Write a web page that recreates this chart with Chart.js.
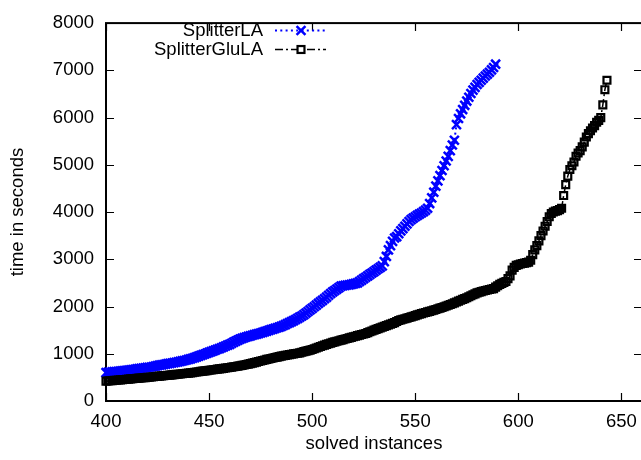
<!DOCTYPE html>
<html>
<head>
<meta charset="utf-8">
<script src="https://cdn.jsdelivr.net/npm/chart.js@4"></script>
<style>
  html, body { margin: 0; padding: 0; overflow: hidden; background: #fff; }
  canvas { display: block; }
</style>
</head>
<body>
<canvas id="chart" width="660" height="460" style="width:660px;height:460px"></canvas>
<script>
// solved instances start at 400, one value (seconds) per instance
const firstInstance = 400;

const splitterLA = [
  600, 605, 610, 615, 620, 625, 630, 635, 640, 645,
  650, 655, 660, 665, 670, 680, 685, 690, 695, 700,
  710, 715, 720, 730, 740, 750, 758, 765, 772, 780,
  790, 798, 805, 812, 820, 830, 840, 848, 858, 868,
  880, 893, 905, 918, 935, 950, 965, 980, 995, 1012,
  1030, 1045, 1060, 1078, 1095, 1110, 1128, 1145, 1165, 1182,
  1200, 1222, 1245, 1268, 1290, 1310, 1325, 1340, 1355, 1368,
  1380, 1392, 1405, 1416, 1428, 1440, 1453, 1467, 1481, 1495,
  1510, 1523, 1537, 1550, 1565, 1580, 1598, 1618, 1640, 1660,
  1680, 1702, 1725, 1750, 1775, 1800, 1830, 1862, 1895, 1928,
  1960, 1995, 2030, 2065, 2098, 2130, 2165, 2200, 2238, 2275,
  2310, 2340, 2370, 2400, 2430, 2440, 2448, 2455, 2460, 2470,
  2480, 2490, 2500, 2530, 2560, 2590, 2620, 2650, 2680, 2710,
  2740, 2770, 2800, 2830, 2860, 2950, 3060, 3200, 3290, 3380,
  3450, 3480, 3540, 3600, 3650, 3700, 3750, 3800, 3840, 3870,
  3900, 3930, 3955, 3980, 4010, 4040, 4080, 4180, 4300, 4420,
  4550, 4660, 4770, 4880, 4980, 5080, 5180, 5300, 5420, 5520,
  5850, 5980, 6080, 6170, 6260, 6350, 6430, 6510, 6580, 6640,
  6700, 6745, 6790, 6835, 6880, 6920, 6960, 7010, 7060, 7130
];

const splitterGluLA = [
  420, 424, 428, 432, 436, 440, 444, 448, 452, 456,
  460, 464, 468, 472, 476, 480, 484, 488, 492, 496,
  500, 504, 509, 513, 518, 522, 527, 531, 536, 540,
  545, 549, 554, 558, 563, 567, 572, 576, 581, 585,
  590, 596, 602, 608, 614, 620, 626, 632, 638, 644,
  650, 656, 662, 668, 674, 680, 686, 692, 698, 704,
  710, 717, 724, 731, 738, 745, 754, 763, 772, 781,
  790, 801, 812, 824, 835, 846, 858, 869, 880, 890,
  900, 910, 920, 930, 940, 950, 958, 966, 974, 982,
  990, 998, 1005, 1012, 1020, 1032, 1044, 1055, 1067, 1078,
  1090, 1106, 1122, 1138, 1154, 1170, 1184, 1198, 1212, 1226,
  1240, 1252, 1264, 1276, 1288, 1300, 1312, 1324, 1336, 1348,
  1360, 1372, 1383, 1395, 1407, 1418, 1430, 1448, 1465, 1483,
  1500, 1516, 1532, 1548, 1564, 1580, 1596, 1612, 1628, 1644,
  1660, 1682, 1705, 1718, 1730, 1742, 1755, 1768, 1780, 1794,
  1808, 1822, 1836, 1850, 1862, 1874, 1886, 1898, 1910, 1924,
  1938, 1952, 1966, 1980, 1996, 2012, 2028, 2044, 2060, 2078,
  2096, 2114, 2132, 2150, 2168, 2185, 2206, 2227, 2248, 2269,
  2290, 2302, 2315, 2328, 2340, 2350, 2360, 2370, 2380, 2410,
  2440, 2470, 2490, 2510, 2530, 2590, 2650, 2770, 2830, 2870,
  2885, 2900, 2910, 2920, 2930, 2940, 2980, 3100, 3200, 3290,
  3390, 3500, 3600, 3700, 3800, 3900, 3970, 4000, 4020, 4030,
  4050, 4080, 4350, 4580, 4760, 4900, 4980, 5060, 5180, 5250,
  5300, 5380, 5480, 5590, 5660, 5720, 5780, 5830, 5900, 5940,
  6000, 6270, 6590, 6790
];

const seriesNames = ['SplitterLA', 'SplitterGluLA'];
const xTicks = [400, 450, 500, 550, 600, 650];
const yTicks = [0, 1000, 2000, 3000, 4000, 5000, 6000, 7000, 8000];

const FONT = '"Liberation Sans", Arial, Helvetica, sans-serif';
const FS = 18.5;

function toPoints(values) {
  return values.map((y, i) => ({ x: firstInstance + i, y: y }));
}

// gnuplot-like frame: border on all sides, inward ticks, legend and titles
const frame = {
  id: 'frame',
  beforeDatasetsDraw(chart) {
    const { ctx, chartArea: a, scales } = chart;
    ctx.save();
    ctx.strokeStyle = '#000';
    ctx.lineWidth = 1.2;
    ctx.beginPath();
    xTicks.forEach(v => {
      const px = Math.round(scales.x.getPixelForValue(v)) + 0.5;
      ctx.moveTo(px, a.bottom); ctx.lineTo(px, a.bottom - 8);
      ctx.moveTo(px, a.top); ctx.lineTo(px, a.top + 8);
    });
    yTicks.forEach(v => {
      const py = Math.round(scales.y.getPixelForValue(v)) + 0.5;
      ctx.moveTo(a.left, py); ctx.lineTo(a.left + 8, py);
      ctx.moveTo(a.right, py); ctx.lineTo(a.right - 8, py);
    });
    ctx.stroke();
    ctx.lineWidth = 2;
    ctx.strokeRect(a.left, a.top, a.right - a.left, a.bottom - a.top);
    ctx.restore();
  },
  afterDraw(chart) {
    const { ctx, chartArea: a } = chart;
    ctx.save();
    ctx.fillStyle = '#000';
    ctx.font = FS + 'px ' + FONT;

    // axis titles
    ctx.textAlign = 'center';
    ctx.textBaseline = 'middle';
    ctx.fillText('solved instances', (a.left + a.right) / 2, 444);
    ctx.save();
    ctx.translate(18, (a.top + a.bottom) / 2);
    ctx.rotate(-Math.PI / 2);
    ctx.fillText('time in seconds', 0, 0);
    ctx.restore();

    // legend
    const rows = [30.5, 49.5];
    chart.data.datasets.forEach((ds, i) => {
      const y = rows[i];
      ctx.fillStyle = '#000';
      ctx.textAlign = 'right';
      ctx.textBaseline = 'middle';
      ctx.fillText(ds.label, 263, y);
      ctx.strokeStyle = ds.borderColor;
      ctx.lineWidth = ds.borderWidth;
      ctx.setLineDash(ds.borderDash);
      ctx.beginPath();
      ctx.moveTo(275, y); ctx.lineTo(326, y);
      ctx.stroke();
      ctx.setLineDash([]);
      ctx.strokeStyle = ds.pointBorderColor;
      ctx.lineWidth = ds.pointBorderWidth;
      const cx = 301;
      if (ds.pointStyle === 'crossRot') {
        const d = ds.pointRadius * Math.SQRT1_2;
        ctx.beginPath();
        ctx.moveTo(cx - d, y - d); ctx.lineTo(cx + d, y + d);
        ctx.moveTo(cx - d, y + d); ctx.lineTo(cx + d, y - d);
        ctx.stroke();
      } else {
        const s = ds.pointRadius * Math.SQRT1_2;
        ctx.fillStyle = '#fff';
        ctx.fillRect(cx - s, y - s, 2 * s, 2 * s);
        ctx.strokeRect(cx - s, y - s, 2 * s, 2 * s);
      }
    });
    ctx.restore();
  }
};

const plainLabel = v => String(v);

new Chart(document.getElementById('chart'), {
  type: 'scatter',
  data: {
    datasets: [
      {
        label: seriesNames[0],
        data: toPoints(splitterLA),
        showLine: true,
        borderColor: '#0000ff',
        borderWidth: 2,
        borderDash: [2, 3.3],
        pointStyle: 'crossRot',
        pointRadius: 6.3,
        pointBorderColor: '#0000ff',
        pointBorderWidth: 2.5,
        pointBackgroundColor: '#0000ff',
        order: 1,
        clip: false
      },
      {
        label: seriesNames[1],
        data: toPoints(splitterGluLA),
        showLine: true,
        borderColor: '#000000',
        borderWidth: 1.5,
        borderDash: [8, 3, 2, 3],
        pointStyle: 'rect',
        pointRadius: 4.9,
        pointBorderColor: '#000000',
        pointBorderWidth: 2.2,
        pointBackgroundColor: 'rgba(0,0,0,0)',
        order: 0,
        clip: false
      }
    ]
  },
  options: {
    responsive: false,
    animation: false,
    events: [],
    layout: { padding: { left: 0, top: 13, right: 18, bottom: 0 } },
    plugins: { legend: { display: false }, tooltip: { enabled: false } },
    scales: {
      x: {
        type: 'linear',
        min: 400,
        max: 660,
        afterBuildTicks: s => { s.ticks = xTicks.map(v => ({ value: v })); },
        afterFit: s => { s.height = 59; },
        grid: { display: false, drawTicks: false },
        border: { display: false },
        ticks: { autoSkip: false, maxRotation: 0, padding: 10, color: '#000', callback: plainLabel, font: { family: FONT, size: FS } }
      },
      y: {
        min: 0,
        max: 8000,
        afterBuildTicks: s => { s.ticks = yTicks.map(v => ({ value: v })); },
        afterFit: s => { s.width = 106; },
        grid: { display: false, drawTicks: false },
        border: { display: false },
        ticks: { padding: 12, color: '#000', callback: plainLabel, font: { family: FONT, size: FS } }
      }
    }
  },
  plugins: [frame]
});
</script>
</body>
</html>
